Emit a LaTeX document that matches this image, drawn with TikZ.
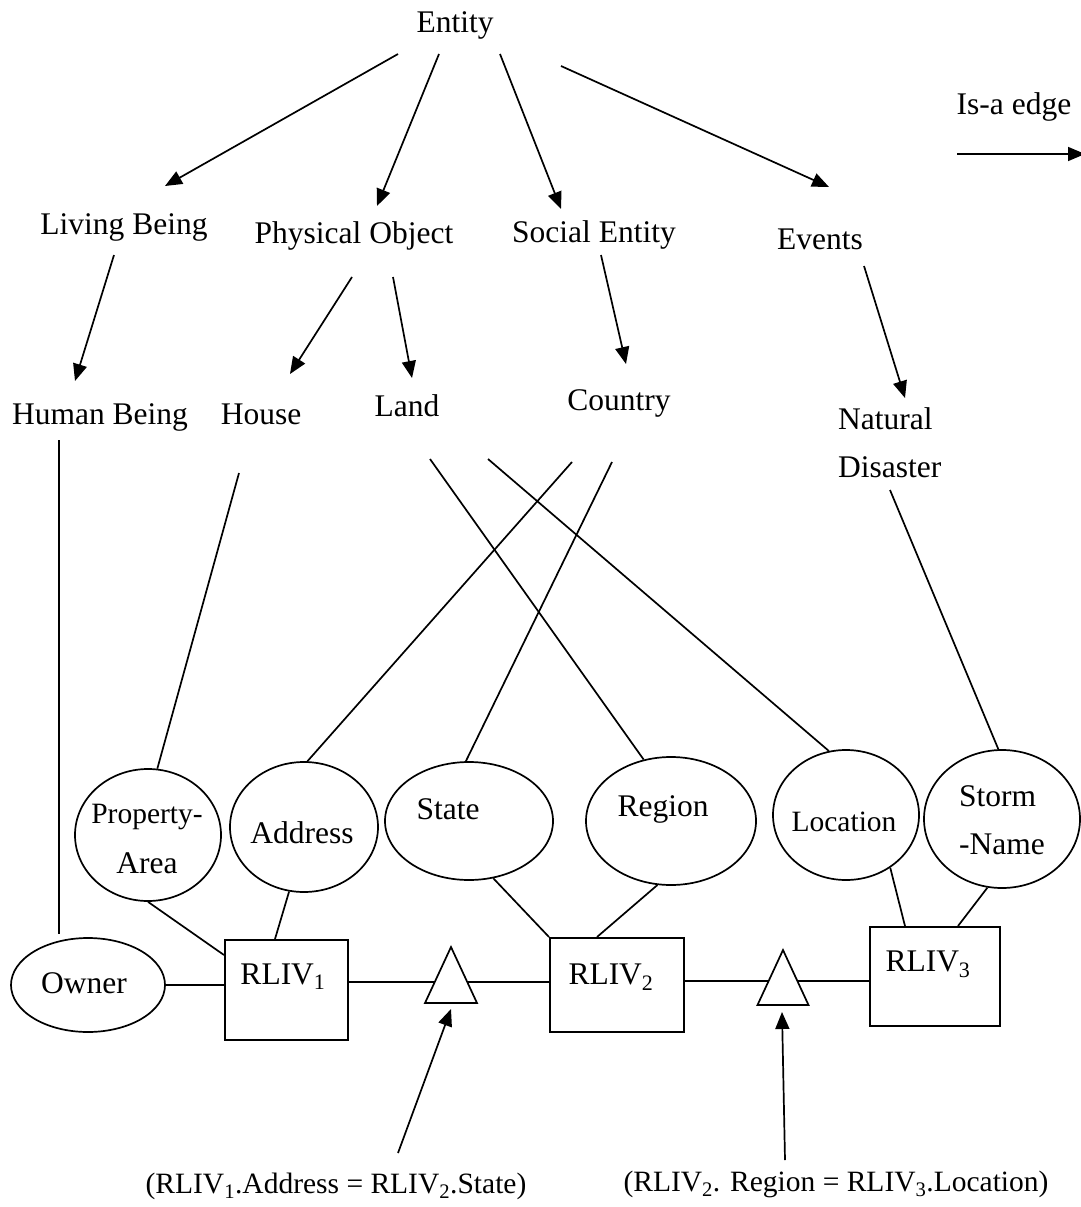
\documentclass[tikz,border=0pt]{standalone}
\usepackage{fontspec}
\setmainfont{Liberation Serif}
\usetikzlibrary{arrows.meta,calc,shapes.geometric}
\newcommand\fsbig{\fontsize{31.5}{37}\selectfont}
\newcommand\fssmall{\fontsize{29.5}{35}\selectfont}
\tikzset{
  lbl/.style={font=\fsbig, inner sep=0pt, anchor=base},
  lblw/.style={font=\fsbig, inner sep=0pt, anchor=base west},
  lbls/.style={font=\fssmall, inner sep=0pt, anchor=base},
  attr/.style={draw, ellipse, line width=1.7pt, inner sep=0pt},
  rel/.style={draw, rectangle, line width=1.7pt, inner sep=0pt, anchor=north west},
  link/.style={line width=1.7pt},
  isa/.style={line width=1.7pt, -{Triangle[length=17pt,width=14pt]}},
}
\begin{document}
\begin{tikzpicture}[x=1pt, y=-1pt]
\useasboundingbox (0,0) rectangle (1080,1207);

% ---------- is-a hierarchy ----------
\node[lbl] (entity) at (455,33) {Entity};
\node[lbl] (living) at (124,234) {Living Being};
\node[lbl] (phys) at (354,243) {Physical Object};
\node[lbl] (social) at (594,242) {Social Entity};
\node[lbl] (events) at (820,249) {Events};
\node[lbl] (human) at (100,424) {Human Being};
\node[lbl] (house) at (261,424) {House};
\node[lbl] (land) at (407,416) {Land};
\node[lbl] (country) at (619,410) {Country};
\node[lblw] (natural) at (838,429) {Natural};
\node[lblw] (disaster) at (838,477) {Disaster};

% legend
\node[lbl] (legend) at (1014,114) {Is-a edge};
\coordinate (lg1) at (957,154);
\coordinate (lg2) at (1085,154);
\draw[isa] (lg1) -- (lg2);

% arrow end points
\coordinate (e1) at (398,54);  \coordinate (e1t) at (165,186);
\coordinate (e2) at (439,54);  \coordinate (e2t) at (377,206);
\coordinate (e3) at (500,54);  \coordinate (e3t) at (561,209);
\coordinate (e4) at (561,66);  \coordinate (e4t) at (829,187);
\coordinate (lb) at (114,255); \coordinate (lbt) at (75,381);
\coordinate (po1) at (352,277); \coordinate (po1t) at (290,374);
\coordinate (po2) at (393,277); \coordinate (po2t) at (412,378);
\coordinate (se) at (601,255); \coordinate (set) at (626,364);
\coordinate (ev) at (864,266); \coordinate (evt) at (905,398);

\draw[isa] (e1) -- (e1t);
\draw[isa] (e2) -- (e2t);
\draw[isa] (e3) -- (e3t);
\draw[isa] (e4) -- (e4t);
\draw[isa] (lb) -- (lbt);
\draw[isa] (po1) -- (po1t);
\draw[isa] (po2) -- (po2t);
\draw[isa] (se) -- (set);
\draw[isa] (ev) -- (evt);

% ---------- attributes ----------
\node[attr, minimum width=146, minimum height=132] (pa) at (148,835) {};
\node[lbls] (paA) at (147,823) {Property-};
\node[lbl] (paB) at (147,873) {Area};

\node[attr, minimum width=148, minimum height=130] (addr) at (304,827) {};
\node[lbl] (addrT) at (302,843) {Address};

\node[attr, minimum width=168, minimum height=118] (state) at (469,821) {};
\node[lbl] (stateT) at (448,819) {State};

\node[attr, minimum width=170, minimum height=128] (region) at (671,821) {};
\node[lbl] (regionT) at (663,816) {Region};

\node[attr, minimum width=146, minimum height=130] (loc) at (846,815) {};
\node[lbls] (locT) at (844,831) {Location};

\node[attr, minimum width=156, minimum height=138] (storm) at (1002,819) {};
\node[lblw] (stormA) at (959,806) {Storm};
\node[lblw] (stormB) at (959,854) {-Name};

\node[attr, minimum width=154, minimum height=94] (owner) at (88,985) {};
\node[lbl] (ownerT) at (84,993) {Owner};

% ---------- relations ----------
\node[rel, minimum width=123, minimum height=100] (r1) at (224,939) {};
\node[lbl] (r1T) at (283,984) {RLIV\textsubscript{1}};
\node[rel, minimum width=134, minimum height=94] (r2) at (549,937) {};
\node[lbl] (r2T) at (611,984) {RLIV\textsubscript{2}};
\node[rel, minimum width=130, minimum height=99] (r3) at (869,926) {};
\node[lbl] (r3T) at (928,971) {RLIV\textsubscript{3}};

% ---------- links from concepts to attributes ----------
\coordinate (hb1) at (59,440); \coordinate (hb2) at (59,934);
\draw[link] (hb1) -- (hb2);
\coordinate (ho) at (239,473);
\draw[link] (ho) -- (pa.82);
\coordinate (la1) at (430,459);
\draw[link] (la1) -- (region.114);
\coordinate (la2) at (488,459);
\draw[link] (la2) -- (loc.105);
\coordinate (co1) at (572,462);
\draw[link] (co1) -- (addr.87);
\coordinate (co2) at (612,462);
\draw[link] (co2) -- (state.93);
\coordinate (di) at (890,490);
\draw[link] (di) -- (storm.93);

% ---------- links from attributes to relations ----------
\draw[link] (owner.east) -- (owner.east -| r1.west);
\draw[link] (pa.270) -- ($(r1.north west)+(0,16)$);
\draw[link] (addr.257) -- ($(r1.north west)+(51,0)$);
\draw[link] (state.293) -- (r2.north west);
\draw[link] (region.258) -- ($(r2.north west)+(48,0)$);
\draw[link] (loc.310) -- ($(r3.north west)+(36,0)$);
\draw[link] (storm.258) -- ($(r3.north west)+(89,0)$);

% ---------- joins between relations ----------
\coordinate (t1) at (451,982);
\coordinate (t2) at (783,981);
\draw[link] (t1 -| r1.east) -- (t1) -- (t1 -| r2.west);
\draw[link] (t2 -| r2.east) -- (t2) -- (t2 -| r3.west);
\draw[link, fill=white] ($(t1)+(0,-35)$) -- ($(t1)+(26,21)$) -- ($(t1)+(-26,21)$) -- cycle;
\draw[link, fill=white] ($(t2)+(0,-31)$) -- ($(t2)+(25.5,24)$) -- ($(t2)+(-25.5,24)$) -- cycle;

\coordinate (j1) at (398,1153);
\coordinate (j2) at (785,1160);
\draw[isa] (j1) -- ($(t1)+(0,27)$);
\draw[isa] (j2) -- ($(t2)+(-1,31)$);

\node[lbls] (cond1) at (336,1193) {(RLIV\textsubscript{1}.Address = RLIV\textsubscript{2}.State)};
\node[lbls] (cond2) at (836,1191) {(RLIV\textsubscript{2}. Region = RLIV\textsubscript{3}.Location)};
\end{tikzpicture}
\end{document}
